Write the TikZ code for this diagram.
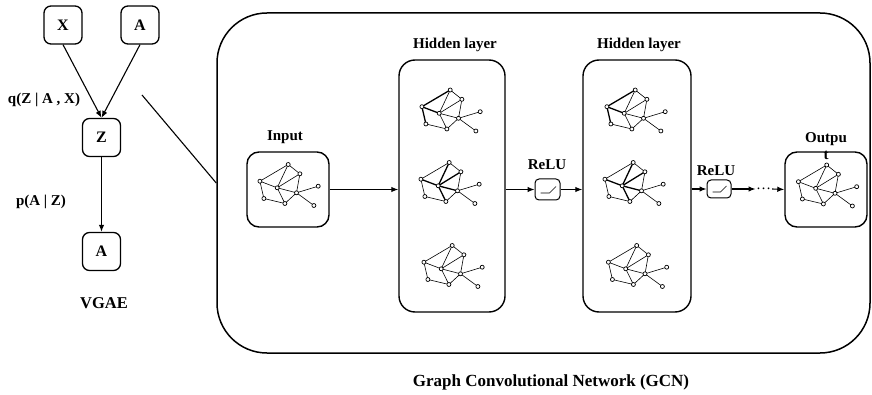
\documentclass[tikz,border=0pt]{standalone}
\usepackage{fontspec}
\setmainfont{Liberation Serif}
\usetikzlibrary{arrows.meta}

% default edge style for the small graph icons
\tikzset{
  ge/.style={line width=0.6pt},
  gt/.style={line width=1.3pt},
  e12/.style={ge}, e13/.style={ge}, e14/.style={ge}, e24/.style={ge},
  e26/.style={ge}, e34/.style={ge}, e46/.style={ge}, e37/.style={ge},
  e78/.style={ge}, e48/.style={ge}, e68/.style={ge}, e56/.style={ge},
  e69/.style={ge},
  hlA/.style={e13/.style={gt}, e34/.style={gt}, e37/.style={gt}},
  hlB/.style={e14/.style={gt}, e24/.style={gt}, e34/.style={gt}, e46/.style={gt}, e48/.style={gt}},
}

% small graph icon centred at (#1,#2); #3 selects highlighted edges
\newcommand\gcngraph[3]{%
  \begin{scope}[shift={(#1,#2)}, #3]
    \coordinate (v1) at (-0.8,-20.5);
    \coordinate (v2) at (10.9,-11.2);
    \coordinate (v3) at (-29.1,-3.8);
    \coordinate (v4) at (-11.8,2.8);
    \coordinate (v5) at (29.2,1.2);
    \coordinate (v6) at (7.5,7.8);
    \coordinate (v7) at (-25.1,13.5);
    \coordinate (v8) at (-4.1,18.5);
    \coordinate (v9) at (24.9,20.5);
    \draw[e12] (v1) -- (v2);
    \draw[e13] (v1) -- (v3);
    \draw[e14] (v1) -- (v4);
    \draw[e24] (v2) -- (v4);
    \draw[e26] (v2) -- (v6);
    \draw[e34] (v3) -- (v4);
    \draw[e46] (v4) -- (v6);
    \draw[e37] (v3) -- (v7);
    \draw[e78] (v7) -- (v8);
    \draw[e48] (v4) -- (v8);
    \draw[e68] (v6) -- (v8);
    \draw[e56] (v5) -- (v6);
    \draw[e69] (v6) -- (v9);
    \foreach \i in {1,...,9}
      \filldraw[fill=white, line width=0.7pt] (v\i) circle (2pt);
  \end{scope}}

\begin{document}
\begin{tikzpicture}[x=1pt,y=-1pt,
  txt/.style={font=\fontsize{15}{17}\selectfont\bfseries, inner sep=0},
  vbox/.style={draw, line width=1.3pt, rounded corners=7pt,
    minimum width=38pt, minimum height=38pt, inner sep=0,
    font=\fontsize{16}{18}\selectfont\bfseries},
  gbox/.style={draw, line width=1.4pt, rounded corners=12pt, inner sep=0,
    minimum width=82pt, minimum height=75pt},
  layerbox/.style={draw, line width=1.4pt, rounded corners=16pt, inner sep=0,
    minimum height=252pt},
  relubox/.style={draw, line width=1pt, rounded corners=4pt, inner sep=0},
  conn/.style={line width=1.1pt},
  arr/.style={conn, -{Latex[length=7pt,width=5.5pt]}},
]
\useasboundingbox (0,0) rectangle (872,395);

% ---- VGAE part ----
\node[vbox] (x) at (63,25) {X};
\node[vbox] (a1) at (140,25) {A};
\node[vbox] (z) at (101.5,137.5) {Z};
\node[vbox] (a2) at (101.5,251.5) {A};
\draw[arr] (x.south) -- (z.north);
\draw[arr] (a1.south) -- (z.north);
\draw[arr] (z.south) -- (a2.north);
\node[txt] (qlbl) at (44,100) {q(Z | A , X)};
\node[txt] (plbl) at (41,202) {p(A | Z)};
\node[txt, font=\fontsize{16.5}{18}\selectfont\bfseries] (vgae) at (104,303) {VGAE};

% ---- GCN frame ----
\node[draw, line width=1.5pt, rounded corners=50pt, inner sep=0,
  minimum width=653pt, minimum height=340pt] (gcn) at (543.5,183) {};
\coordinate (link) at (142,95);
\draw[conn] (link) -- (gcn.west);
\node[txt, font=\fontsize{17}{19}\selectfont\bfseries] (cap) at (551,382) {Graph Convolutional Network (GCN)};

% input
\node[gbox] (inp) at (288,189.5) {};
\node[txt] (inplbl) at (285,137) {Input};
\gcngraph{289}{185}{}

% hidden layer 1
\node[layerbox, minimum width=106pt] (hid1) at (452,186) {};
\node[txt] (hid1lbl) at (455,45) {Hidden layer};
\gcngraph{451}{110.5}{hlA}
\gcngraph{450}{183}{hlB}
\gcngraph{453}{266}{}

% relu 1
\node[relubox, minimum width=25pt, minimum height=21pt] (relu1) at (547.5,189.5) {};
\node[txt] (relu1lbl) at (547,165) {ReLU};
\draw[line width=0.6pt] ([shift={(-7,3.5)}]relu1.center) -- ++(9,0) -- ++(6.5,-6.5);

% hidden layer 2
\node[layerbox, minimum width=108pt] (hid2) at (637,186) {};
\node[txt] (hid2lbl) at (639,45) {Hidden layer};
\gcngraph{636}{110.5}{hlA}
\gcngraph{634}{183}{hlB}
\gcngraph{637.5}{266}{}

% relu 2
\node[relubox, minimum width=24pt, minimum height=18pt] (relu2) at (719,189) {};
\node[txt] (relu2lbl) at (716,171) {ReLU};
\draw[line width=0.6pt] ([shift={(-6.5,3)}]relu2.center) -- ++(8,0) -- ++(6,-6);

% output
\node[gbox] (out) at (826,189.5) {};
\node[txt, align=center] (outlbl) at (826,146.5) {Outpu\\t};
\gcngraph{827.5}{185.5}{}
\node[font=\fontsize{15}{17}\selectfont, inner sep=0] (dots) at (763.5,189) {\dots};

% connectors along the pipeline
\draw[arr] (inp.east) -- (inp.east -| hid1.west);
\draw[arr] (hid1.east |- relu1.west) -- (relu1.west);
\draw[arr] (relu1.east) -- (relu1.east -| hid2.west);
\draw[arr] (hid2.east |- relu2.west) -- (relu2.west);
\draw[arr] (relu2.east) -- ++(24,0);
\draw[arr] (dots.east) ++(1,0) -- (out.west);
\end{tikzpicture}
\end{document}
